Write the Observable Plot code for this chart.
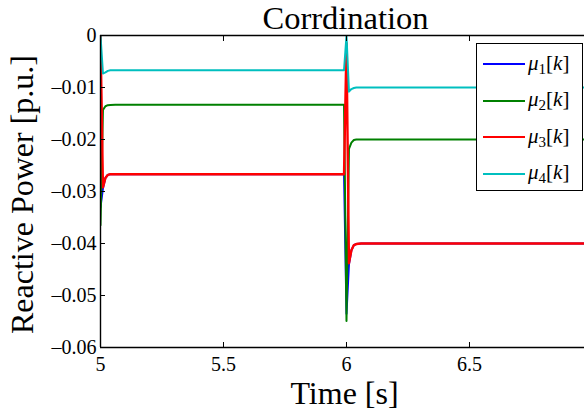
<!DOCTYPE html>
<html>
<head>
<meta charset="utf-8">
<script src="https://cdn.jsdelivr.net/npm/d3@7"></script>
<script src="https://cdn.jsdelivr.net/npm/@observablehq/plot@0.6"></script>
<style>
  html, body { margin: 0; padding: 0; background: white; overflow: hidden; }
  #wrap { position: relative; width: 584px; height: 412px; }
  #wrap svg text { font-family: 'Liberation Serif', serif; }
  #legend { position: absolute; left: 476px; top: 43px; width: 107px; height: 148px;
            border: 1px solid black; background: white; box-sizing: border-box;
            font-family: 'Liberation Serif', serif; font-size: 21px; }
  .row { position: absolute; left: 0; height: 22px; display: flex; align-items: center; }
  .row svg { margin-left: 6px; margin-right: 3px; }
  .mu { font-style: italic; }
  .row sub { font-size: 15px; vertical-align: -4px; font-style: normal; }
</style>
</head>
<body>
<div id="wrap"></div>
<script>
// ---- data ----
const seriesNames = ["mu1", "mu2", "mu3", "mu4"];
const seriesColors = ["#0000ff", "#008000", "#ff0000", "#00bfbf"];
const time = [5.00, 5.01, 5.02, 5.03, 5.04, 5.06, 5.99, 6.00, 6.01, 6.02, 6.03, 6.04, 6.06, 7.00];
const mu1 = [-0.0330, -0.0294, -0.0274, -0.0268, -0.02667, -0.02667, -0.02667, -0.0535, -0.0440, -0.0413, -0.0403, -0.0401, -0.0400, -0.0400];
const mu2 = [-0.0365, -0.0143, -0.0136, -0.0134, -0.01335, -0.01333, -0.01333, -0.0549, -0.0218, -0.0206, -0.0201, -0.0200, -0.0200, -0.0200];
const mu3 = [0.0000, -0.0292, -0.0274, -0.0268, -0.02667, -0.02667, -0.02667, -0.0015, -0.0438, -0.0413, -0.0403, -0.0401, -0.0400, -0.0400];
const mu4 = [0.0000, -0.0073, -0.0071, -0.0068, -0.0067, -0.00667, -0.00667, 0.0000, -0.0108, -0.0103, -0.0101, -0.0100, -0.0100, -0.0100];
const xTicks = [5, 5.5, 6, 6.5];
const yTicks = [0, -0.01, -0.02, -0.03, -0.04, -0.05, -0.06];
const titleText = "Corrdination";
const xLabel = "Time [s]";
const yLabel = "Reactive Power [p.u.]";

const allSeries = [mu1, mu2, mu3, mu4];
const seriesRows = allSeries.map((vals, i) => vals.map((v, j) => ({t: time[j], v, s: seriesNames[i]})));

const yFmt = d => d === 0 ? "0" : (d < 0 ? "\u2013" : "") + Math.abs(d).toFixed(2);
const xFmt = d => String(d);

const chart = Plot.plot({
  width: 584,
  height: 412,
  marginLeft: 100,
  marginRight: 0,
  marginTop: 35,
  marginBottom: 65,
  x: {domain: [5, 6.9675]},
  y: {domain: [-0.06, 0]},
  color: {domain: seriesNames, range: seriesColors},
  style: {fontFamily: "'Liberation Serif', serif", fontSize: "20px", color: "black", background: "white", overflow: "hidden"},
  marks: [
    ...seriesRows.map((rows, i) => Plot.line(rows, {x: "t", y: "v", stroke: "s", strokeWidth: i === 2 ? 2.4 : 2, clip: true})),
    Plot.ruleY([0, -0.06], {stroke: "black", strokeWidth: 1.4}),
    Plot.ruleX([5], {stroke: "black", strokeWidth: 1.4}),
    Plot.axisX(xTicks, {anchor: "bottom", tickSize: -5, tickFormat: () => "", label: null, strokeWidth: 1}),
    Plot.axisX(xTicks, {anchor: "top", tickSize: -5, tickFormat: () => "", label: null, strokeWidth: 1}),
    Plot.axisX(xTicks, {anchor: "bottom", tickSize: 0, tickPadding: 9, tickFormat: xFmt, label: null, fontSize: 20}),
    Plot.axisY(yTicks, {anchor: "left", tickSize: -5, tickFormat: () => "", label: null, strokeWidth: 1}),
    Plot.axisY(yTicks, {anchor: "left", tickSize: 0, tickPadding: 4, tickFormat: yFmt, label: null, fontSize: 20}),
    Plot.text([xLabel], {text: d => d, frameAnchor: "bottom", lineAnchor: "bottom", dy: 56, dx: 2, fontSize: 32}),
    Plot.text([yLabel], {text: d => d, frameAnchor: "left", textAnchor: "middle", rotate: -90, lineAnchor: "bottom", dx: -68, dy: 3, fontSize: 32}),
    Plot.text([titleText], {text: d => d, frameAnchor: "top", lineAnchor: "bottom", dy: -7, dx: 3, fontSize: 32.5})
  ]
});

const wrap = document.getElementById("wrap");
wrap.appendChild(chart);

// legend
const legend = document.createElement("div");
legend.id = "legend";
seriesNames.forEach((name, i) => {
  const row = document.createElement("div");
  row.className = "row";
  row.style.top = (9 + i * 36.5) + "px";
  row.innerHTML = `<svg width="42" height="4"><line x1="0" x2="42" y1="2" y2="2" stroke="${seriesColors[i]}" stroke-width="2"/></svg>` +
    `<span><span class="mu">\u03bc</span><sub>${i + 1}</sub>[<span class="mu">k</span>]</span>`;
  legend.appendChild(row);
});
wrap.appendChild(legend);
</script>
</body>
</html>
